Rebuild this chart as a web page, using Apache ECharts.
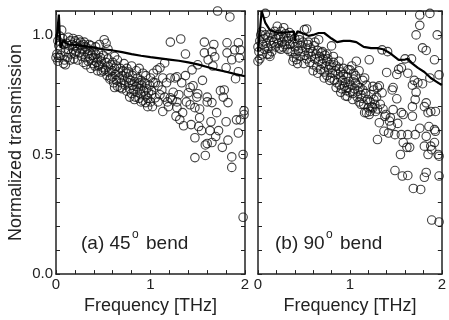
<!DOCTYPE html>
<html><head><meta charset="utf-8">
<script src="https://cdn.jsdelivr.net/npm/echarts@6/dist/echarts.min.js"></script>
<style>html,body{margin:0;padding:0;background:#fff}#c{width:449px;height:320px}</style>
</head><body><div id="c"></div>
<script>
// ---- data ----
const panelLabels = ['(a) 45', '(b) 90'];
const xTickLabels = ['0', '1', '2'];
const yTickLabels = ['0.0', '0.5', '1.0'];

// (a) 45 degree bend: measured points [frequency THz, normalized transmission]
const bend45Points = [
[0.00,0.905],[0.01,0.92],[0.02,0.975],[0.02,0.89],[0.03,0.955],[0.04,0.995],[0.05,0.94],[0.05,0.915],[0.06,1.02],[0.07,0.985],
[0.08,0.96],[0.09,0.895],[0.10,0.93],[0.10,0.875],[0.11,0.965],[0.12,0.905],[0.13,0.99],[0.13,0.94],[0.14,0.955],[0.15,0.975],
[0.16,0.92],[0.17,0.96],[0.18,0.985],[0.18,0.94],[0.19,0.9],[0.20,0.955],[0.20,0.975],
[0.21,0.93],[0.22,0.965],[0.23,0.945],[0.23,0.895],[0.24,0.98],[0.25,0.925],[0.26,0.955],[0.26,0.97],[0.27,0.91],[0.28,0.94],
[0.29,0.885],[0.29,0.96],[0.30,0.93],[0.31,0.905],[0.31,0.95],[0.32,0.875],[0.33,0.945],[0.34,0.92],[0.34,0.89],[0.35,0.935],
[0.36,0.9],[0.37,0.955],[0.37,0.86],[0.38,0.915],[0.39,0.88],[0.40,0.935],[0.40,0.905],[0.41,0.87],[0.42,0.92],[0.43,0.885],
[0.44,0.9],[0.44,0.85],[0.45,0.925],
[0.46,0.875],[0.47,0.905],[0.48,0.845],[0.48,0.89],[0.49,0.865],[0.50,0.915],[0.51,0.98],[0.53,0.965],[0.52,0.855],[0.53,0.885],
[0.54,0.83],[0.55,0.87],[0.55,0.9],[0.56,0.845],[0.57,0.815],[0.58,0.875],[0.59,0.85],[0.60,0.825],[0.60,0.885],[0.61,0.8],
[0.62,0.86],[0.63,0.835],[0.64,0.87],[0.64,0.81],[0.65,0.785],[0.66,0.845],[0.67,0.82],[0.68,0.86],[0.69,0.8],[0.70,0.83],
[0.70,0.775],[0.71,0.85],[0.72,0.81],[0.73,0.79],[0.74,0.84],[0.75,0.765],
[0.76,0.82],[0.77,0.8],[0.77,0.845],[0.78,0.775],[0.79,0.81],[0.80,0.755],[0.81,0.83],[0.81,0.79],[0.82,0.77],[0.83,0.805],
[0.84,0.74],[0.85,0.785],[0.86,0.82],[0.86,0.76],[0.87,0.795],[0.88,0.735],[0.89,0.775],[0.90,0.81],[0.90,0.75],[0.91,0.79],
[0.92,0.725],[0.93,0.765],[0.94,0.8],[0.95,0.745],[0.95,0.717],[0.96,0.775],[0.97,0.735],[0.98,0.76],[0.99,0.79],[1.00,0.72],
[0.03,0.905],[0.08,0.88],[0.15,0.895],[0.20,0.92],[0.30,0.97],[0.35,0.96],[0.42,0.95],[0.45,0.87],[0.46,0.96],[0.50,0.85],
[0.55,0.94],[0.58,0.82],[0.62,0.91],[0.62,0.78],[0.65,0.895],[0.68,0.78],[0.72,0.88],[0.75,0.86],[0.78,0.74],[0.80,0.87],
[0.83,0.73],[0.85,0.85],[0.88,0.86],[0.88,0.80],[0.90,0.72],[0.92,0.84],[0.95,0.83],[0.97,0.70],[1.00,0.82],[1.02,0.70],
[1.05,0.80],
[1.01,0.75],[1.01,0.767],[1.03,0.80],[1.03,0.84],[1.05,0.737],[1.07,0.854],[1.08,0.72],
[1.08,0.7875],[1.10,0.8625],[1.10,0.75],[1.12,0.77],[1.13,0.68],[1.13,0.82],[1.15,0.883],[1.15,0.74],[1.17,0.80],[1.18,0.72],
[1.19,0.70],[1.21,0.737],[1.21,0.82],[1.21,0.97],[1.23,0.73],[1.24,0.76],[1.26,0.82],[1.27,0.66],[1.28,0.825],[1.28,0.72],
[1.28,0.696],[1.30,0.75],[1.31,0.646],[1.32,0.983],[1.33,0.80],[1.34,0.675],[1.35,0.62],[1.37,0.92],[1.37,0.83],[1.38,0.72],
[1.40,0.758],[1.42,0.78],[1.42,0.708],[1.43,0.625],[1.44,0.854],[1.45,0.7875],[1.47,0.696],[1.47,0.57],[1.47,0.487],[1.49,0.74],
[1.50,0.875],[1.50,0.754],[1.51,0.617],[1.52,0.654],[1.52,0.69],[1.54,0.60],[1.55,0.81],[1.57,0.97],[1.57,0.925],[1.58,0.54],
[1.58,0.496],[1.60,0.546],[1.60,0.72],[1.60,0.74],[1.61,0.896],[1.63,0.60],[1.64,0.637],[1.65,0.55],[1.65,0.717],[1.65,0.93],
[1.66,0.87],[1.67,0.96],[1.68,0.908],[1.69,0.575],[1.70,0.675],[1.71,1.10],[1.72,0.60],[1.74,0.767],[1.76,0.53],[1.77,0.74],
[1.78,0.77],[1.80,0.637],[1.80,0.8625],[1.81,0.967],[1.81,0.925],[1.82,0.56],[1.82,0.717],[1.84,1.075],[1.86,0.896],[1.86,0.49],
[1.86,0.446],[1.89,0.9375],[1.90,0.817],[1.91,0.645],[1.93,0.967],[1.93,0.59],[1.93,0.846],[1.94,0.904],[1.95,0.9375],[1.95,0.645],
[1.98,0.50],[1.98,0.2375],[1.99,0.667],[1.99,0.683]
];
// (a) simulated curve
const bend45CurveX = [0,0.02,0.03,0.04,0.05,0.07,0.085,0.1,0.14,0.2,0.3,0.4,0.5,0.6,0.7,0.8,0.9,1.0,1.1,1.2,1.3,1.4,1.5,1.6,1.7,1.8,1.9,2.0];
const bend45CurveY = [0.96,1.04,1.085,1.0,0.946,0.97,0.98,0.965,0.96,0.958,0.953,0.947,0.94,0.935,0.928,0.92,0.913,0.907,0.902,0.897,0.892,0.885,0.877,0.866,0.855,0.846,0.836,0.827];

// (b) 90 degree bend: measured points
const bend90Points = [
[0.00,0.89],[0.00,0.95],[0.01,0.93],[0.02,0.975],[0.03,1.0],[0.04,1.014],[0.05,0.96],[0.06,0.985],[0.07,0.94],[0.08,1.09],
[0.08,1.0],[0.09,0.965],[0.10,0.99],[0.11,0.945],[0.12,0.918],[0.13,0.91],[0.13,0.975],[0.14,1.005],[0.15,0.955],[0.16,0.99],
[0.17,0.97],[0.18,1.015],[0.19,0.95],[0.20,0.985],[0.21,1.036],[0.22,0.965],[0.22,1.0],[0.23,0.945],[0.24,0.99],[0.25,1.015],
[0.26,0.97],[0.27,0.95],[0.28,1.03],[0.28,0.99],[0.29,0.96],[0.30,1.005],[0.31,0.975],[0.32,0.94],[0.33,0.985],[0.34,1.01],
[0.35,0.96],[0.36,0.995],[0.37,0.93],[0.38,0.97],[0.39,0.905],[0.40,0.985],[0.40,0.95],[0.41,0.92],[0.42,0.897],[0.43,0.965],
[0.44,0.935],[0.45,0.98],[0.46,0.91],[0.47,0.955],[0.48,0.93],[0.49,0.97],[0.505,1.022],[0.51,0.915],[0.52,0.945],[0.53,1.025],
[0.53,0.9],[0.54,0.96],[0.55,0.925],[0.56,0.885],[0.57,0.945],[0.58,0.91],[0.59,0.93],[0.60,0.875],[0.61,0.955],[0.62,0.9],
[0.63,0.92],[0.64,0.865],[0.65,0.935],[0.66,0.98],[0.66,0.89],[0.67,0.91],[0.68,0.855],[0.69,0.925],[0.70,0.88],[0.71,0.9],
[0.72,0.845],[0.73,0.915],[0.74,0.87],[0.75,0.89],[0.75,0.83],[0.76,0.9],[0.77,0.855],[0.78,0.875],[0.79,0.82],[0.80,0.954],
[0.80,0.865],[0.81,0.84],[0.82,0.885],[0.83,0.81],[0.84,0.85],[0.85,0.87],[0.86,0.8],[0.87,0.835],[0.88,0.86],[0.89,0.79],
[0.90,0.82],[0.90,0.845],[0.91,0.775],[0.92,0.81],[0.93,0.835],[0.94,0.785],[0.95,0.8],[0.96,0.767],[0.97,0.743],[0.97,0.825],
[0.98,0.78],[0.99,0.805],[1.00,0.76],[1.00,0.854],[1.01,0.79],[1.02,0.87],[1.03,0.755],[1.04,0.815],[1.04,0.84],[1.05,0.775],
[1.06,0.8],[1.07,0.89],[1.08,0.74],[1.08,0.79],[1.09,0.765],[1.10,0.72],[1.10,0.85],[1.11,0.78],[1.12,0.75],[1.13,0.735],
[1.14,0.77],[1.15,0.71],[1.16,0.675],[1.16,0.82],[1.17,0.755],[1.18,0.675],[1.19,0.73],
[0.02,0.90],[0.05,0.92],[0.10,0.92],[0.15,0.93],[0.25,0.94],[0.35,0.93],[0.38,0.89],[0.43,0.88],[0.45,0.99],[0.50,0.88],
[0.55,0.97],[0.60,0.85],[0.62,0.97],[0.65,0.84],[0.70,0.93],[0.72,0.82],[0.75,0.92],[0.78,0.81],[0.82,0.91],[0.85,0.78],
[0.88,0.89],[0.90,0.76],[0.93,0.86],[0.95,0.745],[0.98,0.855],[1.03,0.73],[1.06,0.83],[1.12,0.71],[1.14,0.81],[1.18,0.79],
[1.22,0.68],[1.26,0.77],
[1.20,0.695],[1.21,0.896],[1.21,0.667],[1.22,0.72],[1.23,0.75],[1.24,0.70],[1.25,0.785],[1.25,0.695],[1.26,0.73],[1.27,0.71],
[1.28,0.68],[1.29,0.74],[1.30,0.5625],[1.30,0.69],[1.30,0.78],[1.32,0.633],[1.32,0.787],[1.33,0.71],[1.35,0.9375],[1.35,0.758],
[1.36,0.69],[1.37,0.597],[1.38,0.66],[1.39,0.667],[1.40,0.843],[1.41,0.93],[1.42,0.59],[1.43,0.64],[1.44,0.654],[1.45,0.62],
[1.46,0.77],[1.47,0.6875],[1.47,0.78],[1.49,0.583],[1.49,0.433],[1.51,0.733],[1.51,0.835],[1.52,0.63],[1.53,0.856],[1.55,0.50],
[1.56,0.583],[1.56,0.675],[1.56,0.8625],[1.57,0.41],[1.58,0.55],[1.58,0.667],[1.60,0.90],[1.62,0.53],[1.63,0.583],[1.63,0.84],
[1.63,0.4125],[1.65,0.53],[1.67,0.90],[1.68,0.66],[1.68,0.70],[1.68,0.79],[1.69,0.358],[1.70,0.81],[1.71,0.583],[1.71,0.73],
[1.72,1.00],[1.72,0.76],[1.74,0.80],[1.76,1.083],[1.76,1.04],[1.76,0.61],[1.77,0.354],[1.79,0.796],[1.79,0.946],[1.81,0.70],
[1.81,0.535],[1.81,0.405],[1.83,0.935],[1.83,0.716],[1.83,0.576],[1.83,0.425],[1.85,0.675],[1.85,0.50],[1.86,0.617],[1.87,1.09],
[1.87,0.82],[1.88,0.68],[1.88,0.535],[1.89,0.52],[1.89,0.226],[1.92,0.896],[1.92,0.55],[1.92,0.604],[1.93,0.68],[1.93,0.597],
[1.95,1.00],[1.96,0.50],[1.97,0.833],[1.97,0.493],[1.97,0.41],[1.97,0.218]
];
// (b) simulated curve
const bend90CurveX = [0,0.04,0.08,0.13,0.2,0.3,0.39,0.40,0.41,0.43,0.5,0.55,0.6,0.66,0.72,0.8,0.86,0.93,1.0,1.07,1.15,1.23,1.3,1.36,1.41,1.46,1.53,1.6,1.63,1.68,1.74,1.81,1.88,1.94,2.0];
const bend90CurveY = [0.93,1.10,1.05,1.02,1.01,1.01,1.015,0.975,1.0,1.015,1.005,0.996,1.0,1.008,1.008,0.985,0.97,0.975,0.975,0.97,0.95,0.945,0.945,0.94,0.93,0.917,0.896,0.897,0.90,0.88,0.862,0.845,0.82,0.805,0.79];

// ---- chart ----
const FONT = 'Liberation Sans, Arial, sans-serif';
const INK = '#222';
const chart = echarts.init(document.getElementById('c'), null, {renderer: 'canvas'});

const zip = (xs, ys) => xs.map((x, i) => [x, ys[i]]);
const near = (v, t) => Math.abs(v - t) < 1e-6;
const axisLineStyle = {color: INK, width: 1.5};

function xAxisFor(grid, pos, labels) {
  return {
    type: 'value', gridIndex: grid, position: pos, min: 0, max: 2, interval: 0.2,
    axisLine: {show: true, onZero: false, lineStyle: axisLineStyle},
    axisTick: {show: true, inside: true, length: 4, lineStyle: {color: INK, width: 1}},
    splitLine: {show: false},
    axisLabel: {show: labels, margin: 3, fontFamily: FONT, fontSize: 15, color: INK,
      formatter: v => { const i = xTickLabels.findIndex((t, k) => near(v, k)); return i >= 0 ? xTickLabels[i] : ''; }},
    name: labels ? 'Frequency [THz]' : '', nameLocation: 'middle', nameGap: 14,
    nameTextStyle: {fontFamily: FONT, fontSize: 18, color: INK}
  };
}
function yAxisFor(grid, pos, labels, name) {
  return {
    type: 'value', gridIndex: grid, position: pos, min: 0, max: 1.1, interval: 0.1,
    axisLine: {show: true, onZero: false, lineStyle: axisLineStyle},
    axisTick: {show: true, inside: true, length: 4, lineStyle: {color: INK, width: 1}},
    splitLine: {show: false},
    axisLabel: {show: labels, margin: 3, fontFamily: FONT, fontSize: 15, color: INK,
      formatter: v => { const i = yTickLabels.findIndex((t, k) => near(v, k * 0.5)); return i >= 0 ? yTickLabels[i] : ''; }},
    name: name || '', nameLocation: 'middle', nameGap: 31,
    nameTextStyle: {fontFamily: FONT, fontSize: 18, color: INK}
  };
}

const scatterStyle = {
  type: 'scatter', symbol: 'circle', symbolSize: 8.5,
  itemStyle: {color: 'rgba(0,0,0,0)', borderColor: '#111', borderWidth: 1.1},
  silent: true, z: 2
};
const lineStyle = {
  type: 'line', symbol: 'none', smooth: false,
  lineStyle: {color: '#000', width: 2.2}, silent: true, z: 3
};

function panelText(x, label) {
  const base = {fontFamily: FONT, fontSize: 19, fill: INK};
  return [
    {type: 'text', left: x, top: 234, z: 10, style: Object.assign({text: label}, base)},
    {type: 'text', left: x + 51, top: 229, z: 10, style: Object.assign({}, base, {text: 'o', fontSize: 12})},
    {type: 'text', left: x + 65, top: 234, z: 10, style: Object.assign({text: 'bend'}, base)}
  ];
}

chart.setOption({
  animation: false,
  backgroundColor: '#fff',
  grid: [
    {left: 56, top: 11, width: 189, height: 264},
    {left: 258, top: 11, width: 190, height: 264}
  ],
  xAxis: [xAxisFor(0, 'bottom', true), xAxisFor(0, 'top', false), xAxisFor(1, 'bottom', true), xAxisFor(1, 'top', false)],
  yAxis: [yAxisFor(0, 'left', true, 'Normalized transmission'), yAxisFor(0, 'right', false), yAxisFor(1, 'left', false), yAxisFor(1, 'right', false)],
  series: [
    Object.assign({}, scatterStyle, {xAxisIndex: 0, yAxisIndex: 0, data: bend45Points}),
    Object.assign({}, lineStyle, {xAxisIndex: 0, yAxisIndex: 0, data: zip(bend45CurveX, bend45CurveY)}),
    Object.assign({}, scatterStyle, {xAxisIndex: 2, yAxisIndex: 2, data: bend90Points}),
    Object.assign({}, lineStyle, {xAxisIndex: 2, yAxisIndex: 2, data: zip(bend90CurveX, bend90CurveY)})
  ],
  graphic: panelText(81, panelLabels[0]).concat(panelText(275, panelLabels[1]))
});
</script>
</body></html>
